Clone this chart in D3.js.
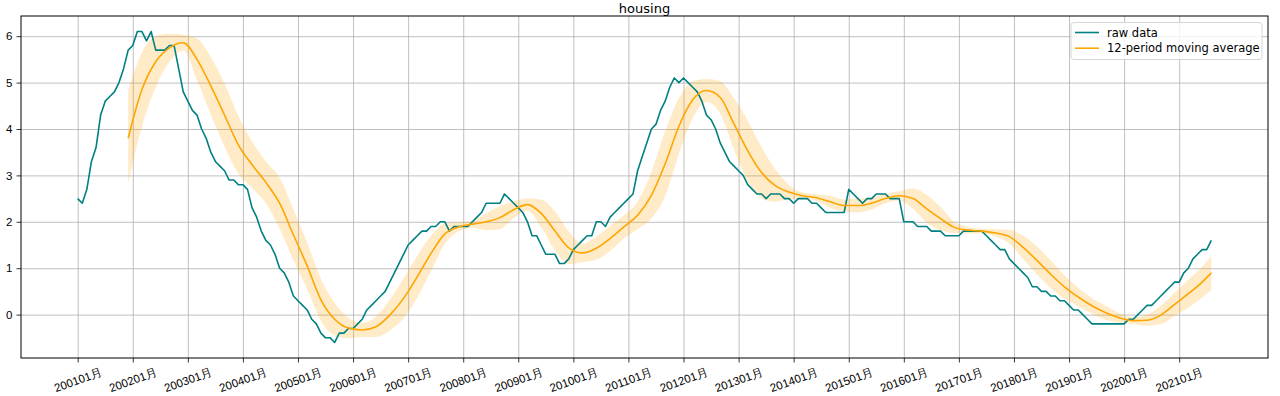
<!DOCTYPE html>
<html>
<head>
<meta charset="utf-8">
<script src="https://cdn.jsdelivr.net/npm/d3@7"></script>
<style>
  body { margin: 0; background: #fff; }
  svg { font-family: "DejaVu Sans", sans-serif; }
  .grid line { stroke: #b0b0b0; stroke-width: 0.8; }
  .grid path { display: none; }
  .axis path { display: none; }
  .axis line { stroke: #000; stroke-width: 0.8; }
  .axis text { fill: #000; font-size: 11.5px; }
</style>
</head>
<body>
<div id="chart"></div>
<script>
// tick labels every 12 months (category index 0, 12, 24, ...)
var tickLabels = ["200101月", "200201月", "200301月", "200401月", "200501月", "200601月",
  "200701月", "200801月", "200901月", "201001月", "201101月", "201201月", "201301月",
  "201401月", "201501月", "201601月", "201701月", "201801月", "201901月", "202001月", "202101月"];
var tickIndex = [0, 12, 24, 36, 48, 60, 72, 84, 96, 108, 120, 132, 144, 156, 168, 180, 192, 204, 216, 228, 240];
var yTicks = [0, 1, 2, 3, 4, 5, 6];

// raw monthly series, 2001-01 .. 2021-08
var rawData = [
  2.5, 2.4, 2.7, 3.3, 3.6, 4.3, 4.6, 4.7, 4.8, 5.0, 5.3, 5.7,
  5.8, 6.1, 6.1, 5.9, 6.1, 5.7, 5.7, 5.7, 5.8, 5.8, 5.3, 4.8,
  4.6, 4.4, 4.3, 4.0, 3.8, 3.5, 3.3, 3.2, 3.1, 2.9, 2.9, 2.8,
  2.8, 2.7, 2.3, 2.1, 1.8, 1.6, 1.5, 1.3, 1.0, 0.9, 0.7, 0.4,
  0.3, 0.2, 0.1, -0.1, -0.2, -0.4, -0.5, -0.5, -0.6, -0.4, -0.4, -0.3,
  -0.3, -0.2, -0.1, 0.1, 0.2, 0.3, 0.4, 0.5, 0.7, 0.9, 1.1, 1.3,
  1.5, 1.6, 1.7, 1.8, 1.8, 1.9, 1.9, 2.0, 2.0, 1.8, 1.9, 1.9,
  1.9, 1.9, 2.0, 2.1, 2.2, 2.4, 2.4, 2.4, 2.4, 2.6, 2.5, 2.4,
  2.3, 2.2, 2.0, 1.7, 1.7, 1.5, 1.3, 1.3, 1.3, 1.1, 1.1, 1.2,
  1.4, 1.5, 1.6, 1.7, 1.7, 2.0, 2.0, 1.9, 2.1, 2.2, 2.3, 2.4,
  2.5, 2.6, 3.1, 3.4, 3.7, 4.0, 4.1, 4.4, 4.6, 4.9, 5.1, 5.0,
  5.1, 5.0, 4.9, 4.8, 4.6, 4.3, 4.2, 4.0, 3.7, 3.5, 3.3, 3.2,
  3.1, 3.0, 2.8, 2.7, 2.6, 2.6, 2.5, 2.6, 2.6, 2.6, 2.5, 2.5,
  2.4, 2.5, 2.5, 2.5, 2.4, 2.4, 2.3, 2.2, 2.2, 2.2, 2.2, 2.2,
  2.7, 2.6, 2.5, 2.4, 2.5, 2.5, 2.6, 2.6, 2.6, 2.5, 2.5, 2.5,
  2.0, 2.0, 2.0, 1.9, 1.9, 1.9, 1.8, 1.8, 1.8, 1.7, 1.7, 1.7,
  1.7, 1.8, 1.8, 1.8, 1.8, 1.8, 1.7, 1.6, 1.5, 1.4, 1.4, 1.2,
  1.1, 1.0, 0.9, 0.8, 0.6, 0.6, 0.5, 0.5, 0.4, 0.4, 0.3, 0.3,
  0.2, 0.1, 0.1, 0.0, -0.1, -0.2, -0.2, -0.2, -0.2, -0.2, -0.2, -0.2,
  -0.2, -0.1, -0.1, 0.0, 0.1, 0.2, 0.2, 0.3, 0.4, 0.5, 0.6, 0.7,
  0.7, 0.9, 1.0, 1.2, 1.3, 1.4, 1.4, 1.6
];

// 12-period moving average and its band, read every 3 months
var maIndex = [11, 14, 17, 20, 23, 26, 29, 32, 35, 38, 41, 44, 47, 50, 53, 56, 59, 62, 65, 68,
  71, 74, 77, 80, 83, 86, 89, 92, 95, 98, 101, 104, 107, 110, 113, 116, 119, 122, 125, 128,
  131, 134, 137, 140, 143, 146, 149, 152, 155, 158, 161, 164, 167, 170, 173, 176, 179, 182, 185, 188,
  191, 194, 197, 200, 203, 206, 209, 212, 215, 218, 221, 224, 227, 230, 233, 236, 239, 242, 245, 247];
var maValues = [3.8, 4.85, 5.45, 5.75, 5.86, 5.5, 4.93, 4.3, 3.66, 3.23, 2.85, 2.4, 1.72, 1.05, 0.32, -0.1, -0.29, -0.33, -0.26, -0.01,
  0.35, 0.82, 1.32, 1.74, 1.89, 1.95, 2.0, 2.09, 2.26, 2.37, 2.18, 1.8, 1.44, 1.33, 1.43, 1.64, 1.89, 2.14, 2.57, 3.25,
  4.06, 4.63, 4.83, 4.68, 4.11, 3.53, 3.06, 2.78, 2.64, 2.56, 2.52, 2.43, 2.35, 2.35, 2.4, 2.5, 2.56, 2.5, 2.28, 2.07,
  1.88, 1.82, 1.8, 1.76, 1.68, 1.45, 1.17, 0.87, 0.6, 0.38, 0.19, 0.04, -0.07, -0.13, -0.12, -0.01, 0.22, 0.45, 0.7, 0.9];
var bandLower = [2.83, 4.05, 4.9, 5.45, 5.69, 5.05, 4.31, 3.62, 3.04, 2.73, 2.4, 1.85, 1.17, 0.55, -0.13, -0.45, -0.51, -0.48, -0.48, -0.34,
  -0.08, 0.37, 0.94, 1.52, 1.79, 1.87, 1.82, 1.84, 2.08, 2.24, 1.88, 1.38, 1.09, 1.13, 1.18, 1.37, 1.64, 1.84, 2.07, 2.55,
  3.46, 4.23, 4.58, 4.33, 3.56, 2.88, 2.51, 2.43, 2.49, 2.49, 2.45, 2.3, 2.22, 2.2, 2.27, 2.4, 2.46, 2.28, 1.98, 1.82,
  1.76, 1.75, 1.75, 1.68, 1.53, 1.2, 0.87, 0.57, 0.35, 0.18, 0.02, -0.11, -0.17, -0.2, -0.24, -0.21, -0.03, 0.15, 0.37, 0.53];
var bandUpper = [4.83, 5.65, 6.0, 6.05, 6.03, 5.95, 5.55, 4.98, 4.28, 3.73, 3.3, 2.95, 2.27, 1.55, 0.77, 0.25, -0.07, -0.18, -0.04, 0.32,
  0.78, 1.27, 1.7, 1.96, 1.99, 2.03, 2.18, 2.34, 2.44, 2.5, 2.48, 2.22, 1.79, 1.53, 1.68, 1.91, 2.14, 2.44, 3.07, 3.95,
  4.66, 5.03, 5.08, 5.03, 4.66, 4.18, 3.61, 3.13, 2.79, 2.63, 2.59, 2.56, 2.48, 2.5, 2.53, 2.6, 2.66, 2.72, 2.58, 2.32,
  2.0, 1.89, 1.85, 1.84, 1.83, 1.7, 1.47, 1.17, 0.85, 0.58, 0.36, 0.19, 0.03, -0.06, 0.0, 0.19, 0.47, 0.75, 1.03, 1.27];

var W = 1280, H = 396;
var margin = {top: 16, right: 12, bottom: 38, left: 21};
var width = W - margin.left - margin.right,
    height = H - margin.top - margin.bottom;

var svg = d3.select("#chart")
  .append("svg")
  .attr("width", W)
  .attr("height", H)
  .append("g")
  .attr("transform", "translate(" + margin.left + "," + margin.top + ")");

// matplotlib style 5% margins on both axes
var n = rawData.length;
var x = d3.scaleLinear()
  .domain([-0.05 * (n - 1), 1.05 * (n - 1)])
  .range([0, width]);
var y = d3.scaleLinear()
  .domain([-0.935, 6.435])
  .range([height, 0]);

// grid
svg.append("g")
  .attr("class", "grid")
  .attr("transform", "translate(0," + height + ")")
  .call(d3.axisBottom(x).tickValues(tickIndex).tickSize(-height).tickFormat(""));
svg.append("g")
  .attr("class", "grid")
  .call(d3.axisLeft(y).tickValues(yTicks).tickSize(-width).tickFormat(""));

var maPts = maIndex.map(function(d, i) {
  return {i: d, v: maValues[i], lo: bandLower[i], hi: bandUpper[i]};
});

// moving average band
svg.append("path")
  .datum(maPts)
  .attr("fill", "orange")
  .attr("fill-opacity", 0.22)
  .attr("d", d3.area()
    .curve(d3.curveMonotoneX)
    .x(function(d) { return x(d.i); })
    .y0(function(d) { return y(d.lo); })
    .y1(function(d) { return y(d.hi); }));

// raw data
svg.append("path")
  .datum(rawData)
  .attr("fill", "none")
  .attr("stroke", "teal")
  .attr("stroke-width", 1.6)
  .attr("stroke-linejoin", "round")
  .attr("d", d3.line()
    .x(function(d, i) { return x(i); })
    .y(function(d) { return y(d); }));

// moving average
svg.append("path")
  .datum(maPts)
  .attr("fill", "none")
  .attr("stroke", "orange")
  .attr("stroke-width", 1.6)
  .attr("d", d3.line()
    .curve(d3.curveMonotoneX)
    .x(function(d) { return x(d.i); })
    .y(function(d) { return y(d.v); }));

// axes
var xAxis = svg.append("g")
  .attr("class", "axis")
  .attr("transform", "translate(0," + height + ")")
  .call(d3.axisBottom(x).tickValues(tickIndex).tickSize(4.5)
    .tickFormat(function(d, i) { return tickLabels[i]; }));
xAxis.selectAll("text")
  .attr("y", 0)
  .attr("dy", null)
  .style("text-anchor", "middle")
  .attr("dominant-baseline", "central")
  .attr("transform", "translate(0,22) rotate(-20)");

svg.append("g")
  .attr("class", "axis")
  .call(d3.axisLeft(y).tickValues(yTicks).tickSize(4.5).tickPadding(4));

// frame
svg.append("rect")
  .attr("width", width)
  .attr("height", height)
  .attr("fill", "none")
  .attr("stroke", "#000")
  .attr("stroke-width", 1);

// title
svg.append("text")
  .attr("x", width / 2)
  .attr("y", -3.5)
  .style("text-anchor", "middle")
  .style("font-size", "13px")
  .text("housing");

// legend
var legendItems = [{label: "raw data", color: "teal"}, {label: "12-period moving average", color: "orange"}];
var lg = svg.append("g")
  .attr("transform", "translate(" + (width - 197) + ",6.5)");
lg.append("rect")
  .attr("width", 191)
  .attr("height", 37)
  .attr("rx", 3)
  .attr("fill", "#fff")
  .attr("fill-opacity", 0.8)
  .attr("stroke", "#d6d6d6");
var li = lg.selectAll(".legend")
  .data(legendItems)
  .enter().append("g")
  .attr("class", "legend")
  .attr("transform", function(d, i) { return "translate(0," + (10 + i * 15.7) + ")"; });
li.append("line")
  .attr("x1", 4).attr("x2", 28)
  .attr("stroke", function(d) { return d.color; })
  .attr("stroke-width", 1.6);
li.append("text")
  .attr("x", 36)
  .attr("dy", "0.35em")
  .style("font-size", "11.5px")
  .text(function(d) { return d.label; });
</script>
</body>
</html>
